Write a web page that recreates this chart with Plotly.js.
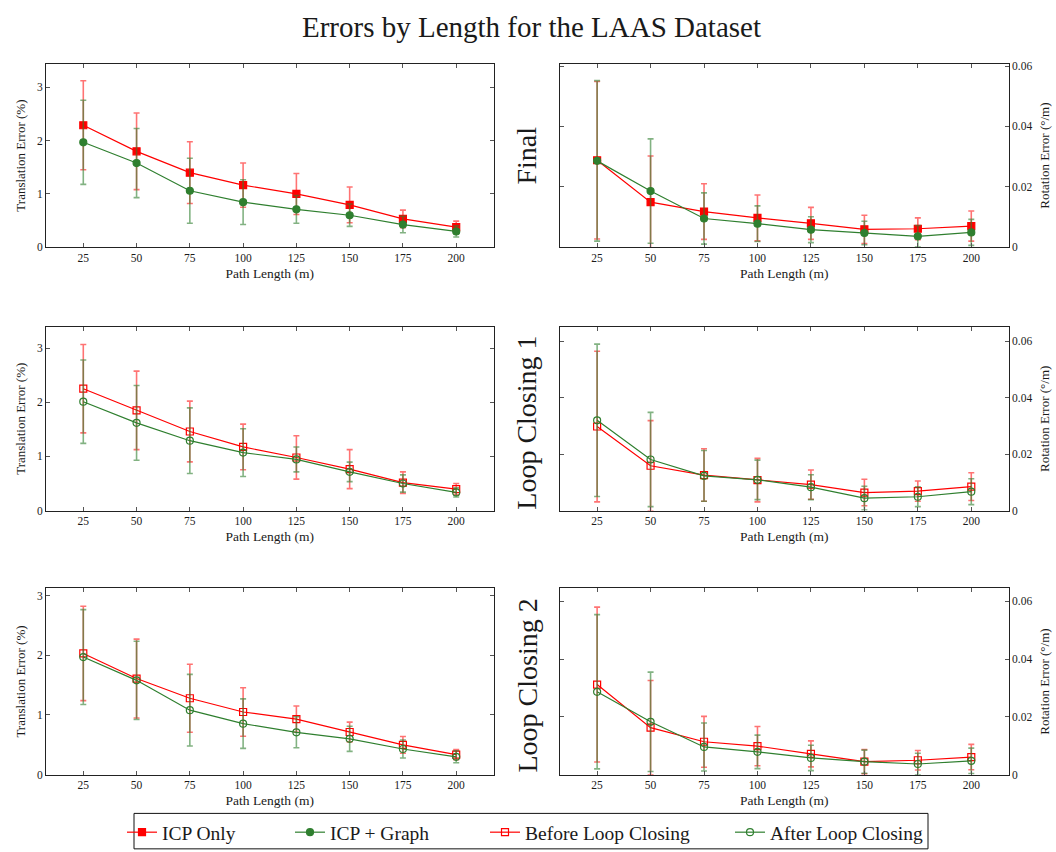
<!DOCTYPE html>
<html>
<head>
<meta charset="utf-8">
<script src="https://cdn.plot.ly/plotly-3.0.1.min.js"></script>
<style>
html, body { margin: 0; padding: 0; background: #ffffff; }
#chart { width: 1056px; height: 852px; }
</style>
</head>
<body>
<div id="chart"></div>
<script>
// ---------------- data ----------------
const pathLength = [25, 50, 75, 100, 125, 150, 175, 200];
const pathTickText = ['25', '50', '75', '100', '125', '150', '175', '200'];

const seriesNames = ['ICP Only', 'ICP + Graph', 'Before Loop Closing', 'After Loop Closing'];
const rowLabels = ['Final', 'Loop Closing 1', 'Loop Closing 2'];

const transTickVals = [0, 1, 2, 3];
const transTickText = ['0', '1', '2', '3'];
const rotTickVals = [0, 0.02, 0.04, 0.06];
const rotTickText = ['0', '0.02', '0.04', '0.06'];

// Final: translation error (%)
const icpOnlyTrans = [2.29, 1.80, 1.40, 1.165, 1.00, 0.795, 0.53, 0.375];
const icpOnlyTransErr = [0.835, 0.72, 0.58, 0.415, 0.385, 0.335, 0.165, 0.115];
const icpGraphTrans = [1.97, 1.58, 1.06, 0.845, 0.71, 0.60, 0.425, 0.295];
const icpGraphTransErr = [0.79, 0.65, 0.61, 0.42, 0.26, 0.21, 0.155, 0.105];
// Final: rotation error (deg/m)
const icpOnlyRot = [0.0288, 0.0149, 0.0118, 0.0097, 0.0079, 0.0059, 0.0061, 0.0070];
const icpOnlyRotErr = [0.0261, 0.0153, 0.0092, 0.0076, 0.0053, 0.0047, 0.0036, 0.0050];
const icpGraphRot = [0.0286, 0.0186, 0.0095, 0.0078, 0.0058, 0.0047, 0.0036, 0.0049];
const icpGraphRotErr = [0.0266, 0.0173, 0.0085, 0.0059, 0.0043, 0.0039, 0.0036, 0.0043];

// Loop Closing 1
const before1Trans = [2.25, 1.85, 1.46, 1.175, 0.98, 0.765, 0.515, 0.395];
const before1TransErr = [0.815, 0.725, 0.56, 0.42, 0.40, 0.36, 0.20, 0.105];
const after1Trans = [2.01, 1.62, 1.29, 1.07, 0.945, 0.715, 0.50, 0.335];
const after1TransErr = [0.77, 0.69, 0.605, 0.44, 0.23, 0.18, 0.16, 0.085];
const before1Rot = [0.0298, 0.0159, 0.0126, 0.0108, 0.0092, 0.0064, 0.0069, 0.0085];
const before1RotErr = [0.0267, 0.0160, 0.0093, 0.0077, 0.0052, 0.0047, 0.0036, 0.0049];
const after1Rot = [0.0320, 0.0181, 0.0123, 0.0109, 0.0083, 0.0044, 0.0049, 0.0067];
const after1RotErr = [0.0270, 0.0167, 0.0090, 0.0070, 0.0044, 0.0042, 0.0035, 0.0046];

// Loop Closing 2
const before2Trans = [2.03, 1.61, 1.28, 1.05, 0.93, 0.715, 0.50, 0.335];
const before2TransErr = [0.79, 0.66, 0.57, 0.405, 0.22, 0.165, 0.14, 0.085];
const after2Trans = [1.97, 1.58, 1.08, 0.855, 0.71, 0.60, 0.43, 0.30];
const after2TransErr = [0.795, 0.655, 0.60, 0.415, 0.26, 0.21, 0.15, 0.10];
const before2Rot = [0.0312, 0.0163, 0.0114, 0.0099, 0.0072, 0.0045, 0.0050, 0.0061];
const before2RotErr = [0.0268, 0.0163, 0.0088, 0.0068, 0.0045, 0.0042, 0.0034, 0.0044];
const after2Rot = [0.0287, 0.0183, 0.0096, 0.0079, 0.0058, 0.0045, 0.0037, 0.0048];
const after2RotErr = [0.0267, 0.0172, 0.0083, 0.0058, 0.0044, 0.0040, 0.0037, 0.0044];

// ---------------- styling ----------------
const FONT = "'Liberation Serif', 'Times New Roman', serif";
const TXT = '#1a1a1a';
const RED = '#ff0000';
const GREEN = '#2f7f2f';
const RED_ERR = 'rgba(255,0,0,0.55)';
const GREEN_ERR = 'rgba(47,127,47,0.6)';

const W = 1056, H = 852;
const colL = [46 / W, 493.5 / W];
const colR = [559.7 / W, 1008.7 / W];
const rows = [
  [(H - 251) / H, (H - 65) / H],
  [(H - 518.5) / H, (H - 332) / H],
  [(H - 786.7) / H, (H - 597.5) / H]
];

function mk(name, y, err, xa, ya, color, errColor, symbol, legendId, showlegend) {
  return {
    type: 'scatter', mode: 'lines+markers', name: name, legendgroup: name,
    legend: legendId, showlegend: showlegend,
    x: pathLength, y: y, xaxis: xa, yaxis: ya,
    line: { color: color, width: 1.2 },
    marker: { color: color, symbol: symbol, size: 7, line: { color: color, width: 1.2 } },
    error_y: { type: 'data', array: err, visible: true, color: errColor, thickness: 1.6, width: 3 },
    cliponaxis: true
  };
}

const traces = [
  mk(seriesNames[0], icpOnlyTrans, icpOnlyTransErr, 'x', 'y', RED, RED_ERR, 'square', 'legend', true),
  mk(seriesNames[1], icpGraphTrans, icpGraphTransErr, 'x', 'y', GREEN, GREEN_ERR, 'circle', 'legend2', true),
  mk(seriesNames[0], icpOnlyRot, icpOnlyRotErr, 'x2', 'y2', RED, RED_ERR, 'square', 'legend', false),
  mk(seriesNames[1], icpGraphRot, icpGraphRotErr, 'x2', 'y2', GREEN, GREEN_ERR, 'circle', 'legend2', false),

  mk(seriesNames[2], before1Trans, before1TransErr, 'x3', 'y3', RED, RED_ERR, 'square-open', 'legend3', true),
  mk(seriesNames[3], after1Trans, after1TransErr, 'x3', 'y3', GREEN, GREEN_ERR, 'circle-open', 'legend4', true),
  mk(seriesNames[2], before1Rot, before1RotErr, 'x4', 'y4', RED, RED_ERR, 'square-open', 'legend3', false),
  mk(seriesNames[3], after1Rot, after1RotErr, 'x4', 'y4', GREEN, GREEN_ERR, 'circle-open', 'legend4', false),

  mk(seriesNames[2], before2Trans, before2TransErr, 'x5', 'y5', RED, RED_ERR, 'square-open', 'legend3', false),
  mk(seriesNames[3], after2Trans, after2TransErr, 'x5', 'y5', GREEN, GREEN_ERR, 'circle-open', 'legend4', false),
  mk(seriesNames[2], before2Rot, before2RotErr, 'x6', 'y6', RED, RED_ERR, 'square-open', 'legend3', false),
  mk(seriesNames[3], after2Rot, after2RotErr, 'x6', 'y6', GREEN, GREEN_ERR, 'circle-open', 'legend4', false)
];

function xAxis(domain, anchor) {
  return {
    domain: domain, anchor: anchor, range: [7.5, 217.5], fixedrange: true,
    tickmode: 'array', tickvals: pathLength, ticktext: pathTickText,
    ticks: 'inside', ticklen: 4, tickwidth: 1, tickcolor: '#555',
    showline: true, linecolor: '#222', linewidth: 1, mirror: 'ticks',
    showgrid: false, zeroline: false,
    tickfont: { family: FONT, size: 11.5, color: TXT },
    title: { text: 'Path Length (m)', font: { family: FONT, size: 13.5, color: TXT }, standoff: 5 }
  };
}
function yAxis(domain, anchor, range, side, vals, text, title) {
  return {
    domain: domain, anchor: anchor, range: range, side: side, fixedrange: true,
    tickmode: 'array', tickvals: vals, ticktext: text,
    ticks: 'inside', ticklen: 4, tickwidth: 1, tickcolor: '#555',
    showline: true, linecolor: '#222', linewidth: 1, mirror: 'ticks',
    showgrid: false, zeroline: false,
    tickfont: { family: FONT, size: 11.5, color: TXT },
    title: { text: title, font: { family: FONT, size: 13, color: TXT }, standoff: 8 }
  };
}

const transTitle = 'Translation Error (%)';
const rotTitle = 'Rotation Error (°/m)';

const rowCenters = rows.map(r => (r[0] + r[1]) / 2);

function legendAt(textStartPx) {
  return {
    orientation: 'h', x: (textStartPx - 40) / W, xanchor: 'left',
    y: (H - 826) / H, yanchor: 'top',
    borderwidth: 0, bgcolor: 'rgba(0,0,0,0)',
    font: { family: FONT, size: 19.5, color: TXT }
  };
}

const layout = {
  width: W, height: H,
  margin: { l: 0, r: 0, t: 0, b: 0, pad: 0 },
  paper_bgcolor: '#ffffff', plot_bgcolor: '#ffffff',
  font: { family: FONT, color: TXT },
  title: { text: 'Errors by Length for the LAAS Dataset', font: { family: FONT, size: 29, color: TXT },
           x: 531.5 / W, xref: 'paper', xanchor: 'center', y: 1 - 27 / H, yref: 'container', yanchor: 'middle' },
  showlegend: true,
  legend: legendAt(162),
  legend2: legendAt(330),
  legend3: legendAt(525),
  legend4: legendAt(770),
  shapes: [{
    type: 'rect', xref: 'paper', yref: 'paper',
    x0: 134 / W, x1: 928 / W, y0: -10 / H, y1: (H - 826) / H,
    line: { color: '#111', width: 1 }, fillcolor: 'rgba(0,0,0,0)', layer: 'above'
  }],
  xaxis: xAxis(colL, 'y'),
  yaxis: yAxis(rows[0], 'x', [0, 3.44], 'left', transTickVals, transTickText, transTitle),
  xaxis2: xAxis(colR, 'y2'),
  yaxis2: yAxis(rows[0], 'x2', [0, 0.0607], 'right', rotTickVals, rotTickText, rotTitle),
  xaxis3: xAxis(colL, 'y3'),
  yaxis3: yAxis(rows[1], 'x3', [0, 3.39], 'left', transTickVals, transTickText, transTitle),
  xaxis4: xAxis(colR, 'y4'),
  yaxis4: yAxis(rows[1], 'x4', [0, 0.0651], 'right', rotTickVals, rotTickText, rotTitle),
  xaxis5: xAxis(colL, 'y5'),
  yaxis5: yAxis(rows[2], 'x5', [0, 3.12], 'left', transTickVals, transTickText, transTitle),
  xaxis6: xAxis(colR, 'y6'),
  yaxis6: yAxis(rows[2], 'x6', [0, 0.0645], 'right', rotTickVals, rotTickText, rotTitle),
  annotations: rowLabels.map((t, i) => ({
    text: t, xref: 'paper', yref: 'paper', x: 527 / W, y: rowCenters[i] - (i === 0 ? 0 : 4 / H),
    xanchor: 'center', yanchor: 'middle', textangle: -90, showarrow: false,
    font: { family: FONT, size: 28, color: TXT }
  }))
};

Plotly.newPlot('chart', traces, layout, { staticPlot: true, displayModeBar: false });
</script>
</body>
</html>
